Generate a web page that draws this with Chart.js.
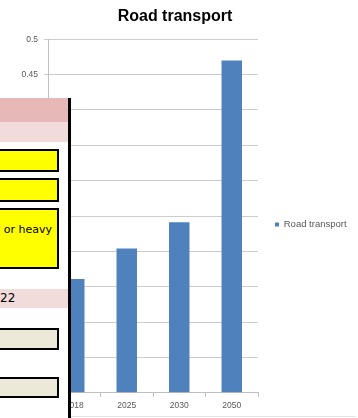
<!DOCTYPE html>
<html>
<head>
<meta charset="utf-8">
<script src="https://cdn.jsdelivr.net/npm/chart.js@4.4.1/dist/chart.umd.min.js"></script>
<style>
  html, body { margin: 0; padding: 0; background: #fff; }
  #wrap { position: relative; width: 358px; height: 418px; overflow: hidden; }
  #chart { position: absolute; left: 0; top: 0; }
  #edge { position: absolute; left: 0; top: 416px; width: 356px; height: 1px; background: #e4e4e4; }
  #panel { position: absolute; left: 0; top: 98px; width: 68px; height: 320px; background: #fff; border-right: 3px solid #000;
           font-family: "DejaVu Sans", Tahoma, sans-serif; font-size: 11px; color: #000; }
  #panel div { position: absolute; box-sizing: border-box; }
  .hdr { left: 0; width: 68px; }
  .box { left: -10px; width: 69px; border: 2px solid #000; }
  .yel { background: #ffff00; }
  .gry { background: #ece9d8; }
</style>
</head>
<body>
<div id="wrap">
  <canvas id="chart" width="358" height="418"></canvas>
  <div id="edge"></div>
  <div id="panel">
    <div class="hdr" style="top:0;height:24px;background:#e6b9b8;"></div>
    <div class="hdr" style="top:24px;height:20px;background:#f2dcdb;"></div>
    <div class="box yel" style="top:51px;height:23px;"></div>
    <div class="box yel" style="top:80px;height:24px;"></div>
    <div class="box yel" style="top:110px;height:61px;"><span style="position:absolute;right:5px;top:13px;white-space:nowrap;">or heavy</span></div>
    <div class="hdr" style="top:191px;height:19px;background:#f2dcdb;"><span style="position:absolute;left:0;top:2px;font-size:12px;">22</span></div>
    <div class="box gry" style="top:230px;height:22px;"></div>
    <div class="box gry" style="top:279px;height:21px;"></div>
  </div>
</div>
<script>
// data
const years = ['2018', '2025', '2030', '2050'];
const roadTransport = [0.161, 0.204, 0.241, 0.47];
const seriesName = 'Road transport';
const chartTitle = 'Road transport';

const axisGrey = '#595959';
const gridGrey = '#cccccc';

const ctx = document.getElementById('chart');
const chart = new Chart(ctx, {
  type: 'bar',
  data: {
    labels: years,
    datasets: [{
      label: seriesName,
      data: roadTransport,
      backgroundColor: '#4f81bd',
      borderWidth: 0,
      barPercentage: 0.39,
      categoryPercentage: 1
    }]
  },
  options: {
    responsive: false,
    animation: false,
    layout: { padding: { left: 0, right: 8, top: 0, bottom: 3 } },
    plugins: {
      title: {
        display: true,
        text: chartTitle,
        color: '#000',
        font: { family: 'Liberation Sans', size: 16, weight: 'bold' },
        padding: { top: 7, bottom: 13 }
      },
      legend: {
        position: 'right',
        maxWidth: 92,
        title: { display: true, text: '', padding: 11, font: { size: 10 } },
        labels: {
          boxWidth: 4, boxHeight: 4, padding: 17,
          color: axisGrey,
          font: { family: 'Liberation Sans', size: 9.5 },
          // trailing room so the legend box fills its max width
          generateLabels: c => Chart.defaults.plugins.legend.labels.generateLabels(c)
            .map(l => Object.assign(l, { text: l.text + '\u00a0\u00a0\u00a0\u00a0' }))
        }
      },
      tooltip: { enabled: false }
    },
    scales: {
      y: {
        min: 0, max: 0.5,
        afterFit: s => { s.width = 48; },
        ticks: {
          stepSize: 0.05, padding: 6, color: axisGrey,
          font: { family: 'Liberation Sans', size: 8.5 },
          callback: v => String(Number(v.toFixed(2)))
        },
        grid: { color: gridGrey, tickLength: 4 },
        border: { color: '#bfbfbf' }
      },
      x: {
        ticks: { color: axisGrey, padding: 4, font: { family: 'Liberation Sans', size: 8.5 } },
        grid: { offset: true, drawOnChartArea: false, tickLength: 4, color: '#bfbfbf' },
        border: { color: '#bfbfbf' }
      }
    }
  }
});
</script>
</body>
</html>
